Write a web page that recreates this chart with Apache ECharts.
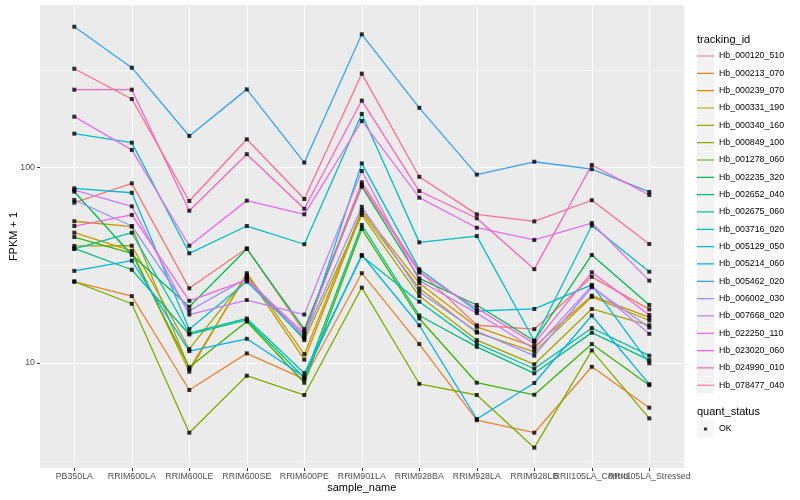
<!DOCTYPE html>
<html><head><meta charset="utf-8">
<script src="https://cdn.jsdelivr.net/npm/echarts@6/dist/echarts.min.js"></script>
<style>html,body{margin:0;padding:0;background:#fff}#c{width:800px;height:500px}</style>
</head><body><div id="c"></div>
<script>
const categories = ['PB350LA','RRIM600LA','RRIM600LE','RRIM600SE','RRIM600PE','RRIM901LA','RRIM928BA','RRIM928LA','RRIM928LB','RRII105LA_Control','RRII105LA_Stressed'];

const Hb_000120_510 = [66.1, 83.0, 24.1, 38.6, 14.4, 84.0, 29.6, 15.6, 14.9, 27.6, 18.8];
const Hb_000213_070 = [26.1, 22.0, 7.28, 11.2, 8.28, 28.8, 12.5, 5.1, 4.4, 9.57, 5.91];
const Hb_000239_070 = [46.4, 37.5, 9.03, 28.8, 11.1, 60.6, 25.6, 15.3, 12.1, 22.1, 17.1];
const Hb_000331_190 = [53.1, 49.8, 9.32, 28.2, 10.4, 58.9, 24.1, 14.3, 11.4, 21.8, 16.5];
const Hb_000340_160 = [39.7, 39.8, 11.8, 27.6, 13.1, 57.2, 22.0, 13.1, 9.85, 18.9, 15.6];
const Hb_000849_100 = [26.1, 20.1, 4.4, 8.61, 6.86, 24.3, 7.83, 6.86, 3.69, 11.6, 5.21];
const Hb_001278_060 = [44.1, 36.4, 9.51, 16.3, 7.93, 48.5, 16.9, 7.93, 6.88, 12.5, 7.7];
const Hb_002235_320 = [75.2, 35.7, 19.4, 38.3, 14.9, 79.8, 27.1, 19.8, 13.0, 35.7, 19.8];
const Hb_002652_040 = [38.6, 30.0, 14.0, 16.6, 8.41, 50.8, 17.5, 12.1, 8.86, 14.3, 10.35];
const Hb_002675_060 = [38.3, 46.4, 14.2, 16.9, 8.86, 35.3, 20.6, 12.6, 9.35, 15.1, 10.9];
const Hb_003716_020 = [149, 134, 36.4, 50.2, 40.5, 188, 41.4, 44.6, 13.0, 50.5, 29.3];
const Hb_005129_050 = [78.3, 74.3, 14.9, 26.1, 13.4, 105, 30.2, 18.45, 18.9, 25.1, 9.97];
const Hb_005214_060 = [29.6, 33.4, 11.5, 13.3, 8.51, 35.7, 15.6, 5.17, 7.9, 17.5, 7.8];
const Hb_005462_020 = [525, 324, 145, 251, 106, 480, 202, 92, 107, 98, 75];
const Hb_006002_030 = [68.2, 50.2, 18.5, 27.1, 13.7, 63.0, 23.1, 14.5, 10.9, 24.4, 15.2];
const Hb_007668_020 = [76.7, 63.3, 17.7, 21.0, 17.7, 96.0, 26.4, 18.0, 11.8, 24.8, 14.1];
const Hb_022250_110 = [182, 123, 39.8, 67.7, 57.6, 173, 70.1, 49.2, 42.6, 52, 26.4];
const Hb_023020_060 = [50.2, 57.2, 20.8, 26.6, 14.1, 81.4, 29.0, 19.05, 12.6, 29.1, 17.6];
const Hb_024990_010 = [250, 250, 60.1, 117, 61.5, 220, 75.8, 55.0, 30.2, 103, 72.3];
const Hb_078477_040 = [320, 224, 67.4, 139.4, 69, 302, 89.7, 57.6, 53.0, 68, 40.6];

const trackingIds = ['Hb_000120_510','Hb_000213_070','Hb_000239_070','Hb_000331_190','Hb_000340_160','Hb_000849_100','Hb_001278_060','Hb_002235_320','Hb_002652_040','Hb_002675_060','Hb_003716_020','Hb_005129_050','Hb_005214_060','Hb_005462_020','Hb_006002_030','Hb_007668_020','Hb_022250_110','Hb_023020_060','Hb_024990_010','Hb_078477_040'];
const trackingValues = [Hb_000120_510,Hb_000213_070,Hb_000239_070,Hb_000331_190,Hb_000340_160,Hb_000849_100,Hb_001278_060,Hb_002235_320,Hb_002652_040,Hb_002675_060,Hb_003716_020,Hb_005129_050,Hb_005214_060,Hb_005462_020,Hb_006002_030,Hb_007668_020,Hb_022250_110,Hb_023020_060,Hb_024990_010,Hb_078477_040];
const quantStatus = ['OK'];

const yMajorTicks = [10, 100];
const yMinorTicks = [3.1623, 31.623, 316.23];
const yRange = [2.904, 678];

const palette = ['#F8766D','#EA8331','#D89000','#C09B00','#A3A500','#7CAE00','#39B600','#00BB4E','#00BF7D','#00C1A3','#00BFC4','#00BAE0','#00B0F6','#35A2FF','#9590FF','#C77CFF','#E76BF3','#FA62DB','#FF62BC','#FF6C91'];
const FONT = 'Liberation Sans, Arial, Helvetica, sans-serif';

const lg = v => Math.log10(v);

const lineSeries = trackingIds.map((name, k) => ({
  name: name, type: 'line', xAxisIndex: 1, yAxisIndex: 3,
  data: trackingValues[k], symbol: 'none', silent: true, animation: false,
  color: palette[k],
  lineStyle: { width: 1.3, color: palette[k] },
  itemStyle: { color: palette[k] },
  emphasis: { disabled: true }, z: 3
}));

const pointData = [];
trackingValues.forEach(vals => vals.forEach((v, i) => pointData.push([categories[i], v])));

const pointSeries = {
  name: 'OK', type: 'scatter', xAxisIndex: 1, yAxisIndex: 3, data: pointData,
  symbol: 'rect', symbolSize: 4, itemStyle: { color: '#000000' }, silent: true, animation: false, z: 5
};

const lineIcon = 'path://M0,0L0.01,0M0,7.9L17,7.9L17,9.1L0,9.1ZM16.99,17L17,17';
const pointIcon = 'path://M0,0L0.01,0M6.9,6.9L10.1,6.9L10.1,10.1L6.9,10.1ZM16.99,17L17,17';

const helperAxis = {
  type: 'value', gridIndex: 0, min: lg(yRange[0]), max: lg(yRange[1]), position: 'left',
  axisLine: { show: false }, axisLabel: { show: false }, axisTick: { show: false }
};

const option = {
  backgroundColor: '#FFFFFF',
  animation: false,
  textStyle: { fontFamily: FONT },
  title: [
    { text: 'tracking_id', left: 697, top: 34, padding: 0, textStyle: { fontSize: 11, fontWeight: 'normal', color: '#000', fontFamily: FONT } },
    { text: 'quant_status', left: 697, top: 406, padding: 0, textStyle: { fontSize: 11, fontWeight: 'normal', color: '#000', fontFamily: FONT } }
  ],
  legend: [
    { data: trackingIds, orient: 'vertical', left: 697, top: 47.5, padding: 0, itemWidth: 17, itemHeight: 17, itemGap: 0.33,
      icon: 'rect', selectedMode: false, z: 4, itemStyle: { color: '#F2F2F2', borderWidth: 0 },
      textStyle: { color: 'rgba(0,0,0,0)', fontSize: 8.8, fontFamily: FONT } },
    { data: trackingIds, orient: 'vertical', left: 697, top: 47.5, padding: 0, itemWidth: 17, itemHeight: 17, itemGap: 0.33,
      icon: lineIcon, selectedMode: false, z: 5, itemStyle: { borderWidth: 0 },
      textStyle: { color: '#000', fontSize: 8.8, fontFamily: FONT } },
    { data: quantStatus, orient: 'vertical', left: 697, top: 420.5, padding: 0, itemWidth: 17, itemHeight: 17,
      icon: 'rect', selectedMode: false, z: 4, itemStyle: { color: '#F2F2F2', borderWidth: 0 },
      textStyle: { color: 'rgba(0,0,0,0)', fontSize: 8.8, fontFamily: FONT } },
    { data: quantStatus, orient: 'vertical', left: 697, top: 420.5, padding: 0, itemWidth: 17, itemHeight: 17,
      icon: pointIcon, selectedMode: false, z: 5, itemStyle: { color: '#000', borderWidth: 0 },
      textStyle: { color: '#000', fontSize: 8.8, fontFamily: FONT } }
  ],
  grid: [
    { left: 40, right: 116, top: 5, bottom: 32, show: true, backgroundColor: '#EBEBEB', borderWidth: 0, containLabel: false, outerBoundsMode: 'none' },
    { left: 74.3, right: 150.7, top: 5, bottom: 32, show: false, containLabel: false, outerBoundsMode: 'none' }
  ],
  xAxis: [
    { type: 'value', gridIndex: 0, min: 0, max: 1, show: false },
    { type: 'category', gridIndex: 1, data: categories, boundaryGap: false,
      name: 'sample_name', nameLocation: 'middle', nameGap: 14, nameMoveOverlap: false,
      nameTextStyle: { fontSize: 11, color: '#000', fontFamily: FONT },
      axisLine: { show: false },
      axisTick: { show: true, interval: 0, length: 3, lineStyle: { color: '#333333', width: 1 } },
      axisLabel: { interval: 0, margin: 4.5, fontSize: 8.8, color: '#4D4D4D', fontFamily: FONT, hideOverlap: false },
      splitLine: { show: true, interval: 0, lineStyle: { color: '#FFFFFF', width: 1.1 } } }
  ],
  yAxis: [
    Object.assign({}, helperAxis, {
      axisTick: { show: false, customValues: yMinorTicks.map(lg) },
      splitLine: { show: true, lineStyle: { color: '#FFFFFF', width: 0.55 } }
    }),
    Object.assign({}, helperAxis, {
      axisTick: { show: false, customValues: yMajorTicks.map(lg) },
      splitLine: { show: true, lineStyle: { color: '#FFFFFF', width: 1.1 } }
    }),
    Object.assign({}, helperAxis, {
      name: 'FPKM + 1', nameLocation: 'middle', nameGap: 21, nameRotate: 90, nameMoveOverlap: false,
      nameTextStyle: { fontSize: 11, color: '#000', fontFamily: FONT },
      axisTick: { show: true, length: 3, customValues: yMajorTicks.map(lg), lineStyle: { color: '#333333', width: 1 } },
      axisLabel: { show: true, margin: 5, fontSize: 8.8, color: '#4D4D4D', fontFamily: FONT,
        customValues: yMajorTicks.map(lg), formatter: v => String(Math.round(Math.pow(10, v))) },
      splitLine: { show: false }
    }),
    { type: 'log', logBase: 10, gridIndex: 1, min: yRange[0], max: yRange[1], show: false,
      splitLine: { show: false } }
  ],
  series: lineSeries.concat([pointSeries])
};

const chart = echarts.init(document.getElementById('c'), null, { renderer: 'canvas' });
chart.setOption(option);
</script>
</body></html>
